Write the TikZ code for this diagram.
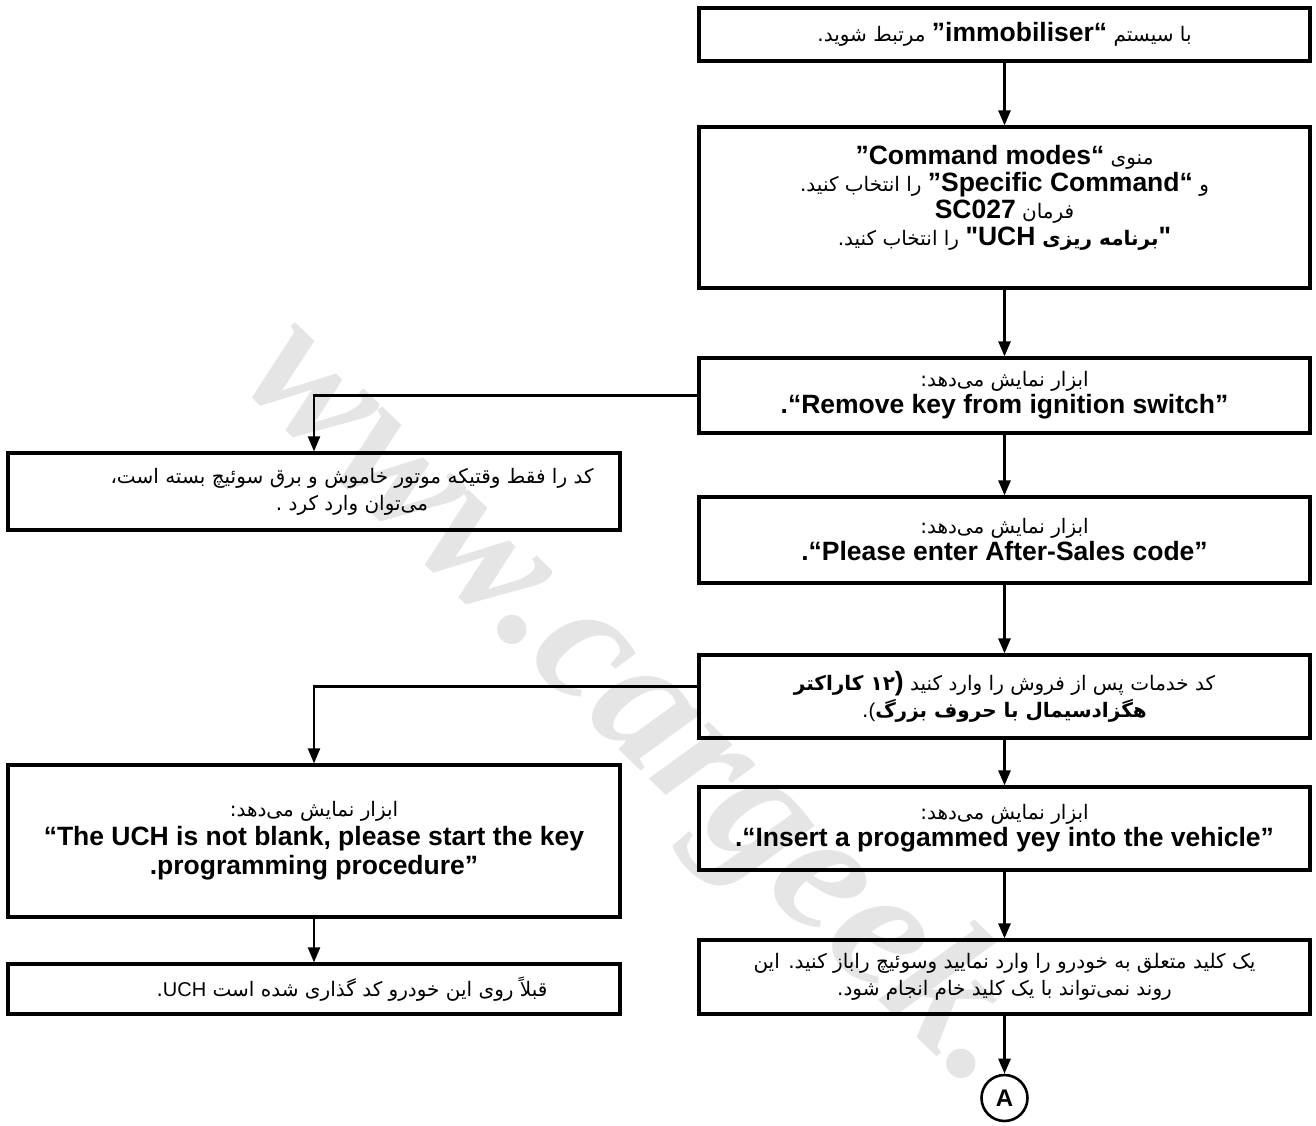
\documentclass[tikz,border=0pt]{standalone}
\usepackage{fontspec}
\setmainfont{Liberation Sans}
\newfontfamily\fa[Script=Arabic]{DejaVu Sans}
\newfontfamily\lat{Liberation Sans}
\newfontfamily\wmfont{Liberation Serif}
\TeXXeTstate=1
\usetikzlibrary{arrows.meta}
\newcommand{\fat}[1]{{\fa\fontsize{20}{27}\selectfont\beginR #1\endR}}
\newcommand{\ent}[1]{{\lat\bfseries\fontsize{26.5}{27}\selectfont #1}}
\tikzset{
  box/.style={draw, line width=3.2pt, minimum width=611pt, inner sep=0pt, align=center,
              font=\fontsize{26.5}{27}\selectfont},
  lbox/.style={draw, line width=3.2pt, minimum width=612pt, inner sep=0pt},
  ltext/.style={align=center, inner sep=0pt, font=\fontsize{26.5}{27}\selectfont},
  arr/.style={line width=2.6pt, -{Triangle[length=15pt,width=12pt]}},
  larr/.style={line width=2.2pt, -{Triangle[length=15pt,width=12pt]}},
  wmark/.style={text=black!10, inner sep=0pt, font=\wmfont\bfseries\itshape\fontsize{180}{180}\selectfont}
}
\begin{document}
\begin{tikzpicture}[x=1pt,y=-1pt]
\useasboundingbox (0,0) rectangle (1316,1126);
\node[wmark, rotate=-44] (wm) at (636,706) {www.cargeek.};
% right column
\node[box, minimum height=53pt] (b1) at (1004.5,34.5)
  {\fat{با سیستم \ent{”immobiliser“} مرتبط شوید.}};
\node[box, minimum height=161pt] (b2) at (1004.5,207.5)
  {\fat{منوی \ent{\beginL”Command modes“\endL}}\\
   \fat{و \ent{\beginL”Specific Command“\endL} را انتخاب کنید.}\\
   \fat{فرمان \ent{SC027}}\\
   \fat{{\bfseries\ent{"}برنامه ریزی \ent{UCH}\kern0pt\ent{"}} را انتخاب کنید.}\\[-2pt]};
\node[box, minimum height=75pt] (b3) at (1004.5,395.5)
  {\fat{ابزار نمایش می‌دهد:}\\ \ent{.“Remove key from ignition switch”}};
\node[box, minimum height=86pt] (b4) at (1004.5,540)
  {\fat{ابزار نمایش می‌دهد:}\\ \ent{.“Please enter After-Sales code”}};
\node[box, minimum height=83pt] (b5) at (1004.5,696.5)
  {\fat{کد خدمات پس از فروش را وارد کنید {\bfseries\ent{)}۱۲ کاراکتر}}\\
   \fat{{\bfseries هگزادسیمال با حروف بزرگ}{\lat (}.}};
\node[box, minimum height=83pt] (b6) at (1004.5,828.5)
  {\fat{ابزار نمایش می‌دهد:}\\ \ent{.“Insert a progammed yey into the vehicle”}};
\node[box, minimum height=74pt] (b7) at (1004.5,977)
  {\fat{یک کلید متعلق به خودرو را وارد نمایید وسوئیچ راباز کنید. این}\\
   \fat{روند نمی‌تواند با یک کلید خام انجام شود.}};
\node[draw, circle, line width=2.6pt, minimum size=46pt, inner sep=0pt,
      font=\bfseries\fontsize{24}{24}\selectfont] (A) at (1004.5,1098) {A};
% left column
\node[lbox, minimum height=77pt] (l1) at (314,491.5) {};
\node[ltext] (l1t) at (352,491.5)
  {\fat{کد را فقط وقتیکه موتور خاموش و برق سوئیچ بسته است،}\\
   \fat{می‌توان وارد کرد .}};
\node[lbox, minimum height=152pt, align=center, font=\fontsize{26.5}{29}\selectfont] (l2) at (314,841)
  {\fat{ابزار نمایش می‌دهد:}\\
   \ent{“The UCH is not blank, please start the key}\\
   \ent{.programming procedure”}};
\node[lbox, minimum height=50pt] (l3) at (314,989) {};
\node[ltext] (l3t) at (352,989)
  {\fat{قبلاً روی این خودرو کد گذاری شده است {\lat\fontsize{20}{27}\selectfont UCH}.}};
% connectors
\draw[arr] (b1) -- (b2);
\draw[arr] (b2) -- (b3);
\draw[arr] (b3) -- (b4);
\draw[arr] (b4) -- (b5);
\draw[arr] (b5) -- (b6);
\draw[arr] (b6) -- (b7);
\draw[arr] (b7) -- (A);
\draw[larr] (b3.west) -| (l1.north);
\draw[larr] ([yshift=10pt]b5.west) -| (l2.north);
\draw[larr] (l2) -- (l3);
\end{tikzpicture}
\end{document}
